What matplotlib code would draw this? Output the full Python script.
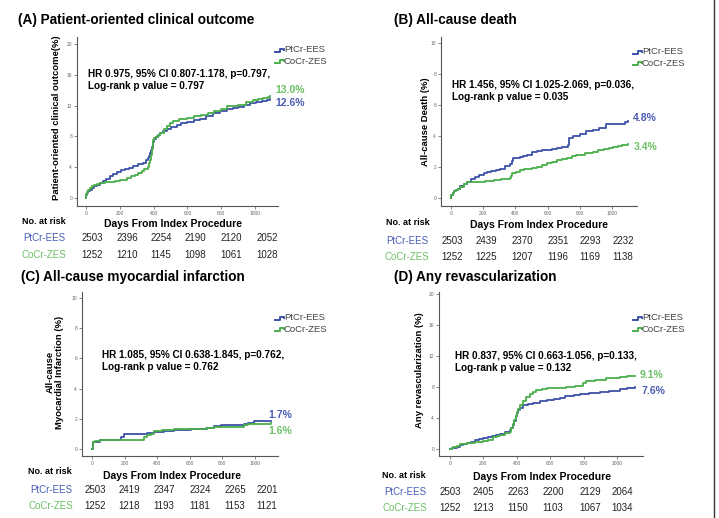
import matplotlib
matplotlib.use("Agg")
import matplotlib.pyplot as plt
from matplotlib.lines import Line2D

plt.rcParams['font.family'] = ['Liberation Sans', 'DejaVu Sans']

# ---- data (days, cumulative %)
groups = ['PtCr-EES', 'CoCr-ZES']
risk_days = [0, 200, 400, 600, 800, 1000]

titles = ['(A) Patient-oriented clinical outcome', '(B) All-cause death',
          '(C) All-cause myocardial infarction', '(D) Any revascularization']
ylabels = ['Patient-oriented clinical outcome(%)', 'All-cause Death (%)',
           'All-cause\nMyocardial Infarction (%)', 'Any revascularization (%)']
stats = ['HR 0.975, 95% CI 0.807-1.178, p=0.797,\nLog-rank p value = 0.797',
         'HR 1.456, 95% CI 1.025-2.069, p=0.036,\nLog-rank p value = 0.035',
         'HR 1.085, 95% CI 0.638-1.845, p=0.762,\nLog-rank p value = 0.762',
         'HR 0.837, 95% CI 0.663-1.056, p=0.133,\nLog-rank p value = 0.132']
end_labels = [('12.6%', '13.0%'), ('4.8%', '3.4%'), ('1.7%', '1.6%'), ('7.6%', '9.1%')]

# panel A
pt_days_A = [0, 3, 8, 15, 25, 35, 50, 65, 83, 100, 120, 140, 160, 181, 205, 230, 255, 280, 310, 339,
             355, 365, 372, 379, 385, 390, 394, 398, 405, 415, 425, 438, 455, 480, 505, 536, 565, 600,
             640, 675, 710, 750, 790, 832, 870, 900, 935, 970, 1005, 1040, 1070, 1089]
pt_A = [0, 0.4, 0.7, 0.9, 1.1, 1.3, 1.5, 1.7, 2.0, 2.2, 2.5, 2.8, 3.1, 3.4, 3.6, 3.8, 3.95, 4.1, 4.35, 4.6,
        4.9, 5.2, 5.5, 5.8, 6.2, 6.6, 7.0, 7.3, 7.6, 7.9, 8.15, 8.4, 8.65, 8.9, 9.2, 9.5, 9.7, 9.9,
        10.1, 10.3, 10.7, 11.0, 11.3, 11.6, 11.7, 11.8, 12.05, 12.3, 12.45, 12.6, 12.75, 12.9]
co_days_A = [0, 3, 8, 15, 25, 35, 50, 65, 83, 110, 142, 170, 200, 220, 240, 265, 290, 310, 330, 345,
             359, 365, 370, 375, 379, 385, 390, 394, 398, 405, 412, 420, 430, 440, 460, 480, 500, 517,
             550, 600, 640, 680, 720, 760, 800, 832, 870, 900, 945, 990, 1020, 1050, 1075, 1089]
co_A = [0, 0.5, 0.8, 1.1, 1.3, 1.5, 1.7, 1.85, 2.0, 2.05, 2.1, 2.2, 2.3, 2.4, 2.55, 2.8, 3.0, 3.25, 3.5, 3.7,
        3.8, 4.0, 4.3, 4.6, 4.9, 5.6, 6.3, 6.9, 7.5, 7.75, 7.9, 8.0, 8.2, 8.4, 8.9, 9.4, 9.7, 10.0,
        10.2, 10.4, 10.6, 10.8, 11.05, 11.3, 11.6, 11.9, 12.0, 12.1, 12.4, 12.7, 12.85, 13.0, 13.15, 13.3]
risk_pt_A = [2503, 2396, 2254, 2190, 2120, 2052]
risk_co_A = [1252, 1210, 1145, 1098, 1061, 1028]

# panel B
pt_days_B = [0, 3, 10, 20, 30, 45, 58, 80, 100, 125, 150, 175, 202, 225, 250, 280, 305, 335, 367, 378,
             388, 410, 430, 450, 470, 500, 532, 565, 600, 630, 656, 690, 728, 732, 735, 760, 800, 840,
             882, 920, 965, 1000, 1068, 1080, 1099]
pt_B = [0, 0.2, 0.35, 0.45, 0.5, 0.6, 0.75, 0.9, 1.0, 1.2, 1.35, 1.5, 1.6, 1.68, 1.75, 1.82, 1.9, 2.05, 2.2, 2.4,
        2.55, 2.6, 2.65, 2.72, 2.8, 2.95, 3.05, 3.07, 3.1, 3.15, 3.2, 3.3, 3.4, 3.6, 3.85, 4.0, 4.15, 4.3,
        4.4, 4.55, 4.75, 4.8, 4.8, 4.9, 5.0]
co_days_B = [0, 3, 10, 20, 30, 45, 58, 80, 99, 130, 161, 210, 264, 310, 367, 373, 380, 405, 429, 455,
             480, 505, 532, 565, 594, 625, 656, 690, 720, 750, 779, 830, 882, 915, 950, 980, 1006, 1035,
             1060, 1080, 1099]
co_B = [0, 0.2, 0.35, 0.45, 0.5, 0.6, 0.73, 0.88, 1.0, 1.03, 1.05, 1.1, 1.15, 1.2, 1.27, 1.45, 1.6, 1.7, 1.8, 1.85,
        1.9, 1.95, 2.0, 2.1, 2.23, 2.35, 2.45, 2.52, 2.6, 2.68, 2.77, 2.9, 3.0, 3.08, 3.15, 3.22, 3.3, 3.35,
        3.4, 3.45, 3.48]
risk_pt_B = [2503, 2439, 2370, 2351, 2293, 2232]
risk_co_B = [1252, 1225, 1207, 1196, 1169, 1138]

# panel C
pt_days_C = [0, 3, 20, 51, 100, 154, 175, 195, 298, 340, 380, 440, 503, 606, 650, 708, 750, 790, 850,
             934, 960, 996, 1098]
pt_C = [0, 0.45, 0.5, 0.58, 0.6, 0.62, 0.8, 0.98, 1.02, 1.08, 1.15, 1.22, 1.28, 1.33, 1.36, 1.4, 1.5, 1.57, 1.6,
        1.68, 1.75, 1.84, 1.84]
co_days_C = [0, 3, 20, 51, 100, 154, 290, 318, 340, 360, 380, 430, 503, 606, 700, 749, 913, 935, 955, 1098]
co_C = [0, 0.45, 0.52, 0.62, 0.6, 0.58, 0.6, 0.8, 0.9, 1.0, 1.2, 1.25, 1.33, 1.33, 1.38, 1.46, 1.46, 1.6, 1.68, 1.73]
risk_pt_C = [2503, 2419, 2347, 2324, 2265, 2201]
risk_co_C = [1252, 1218, 1193, 1181, 1153, 1121]

# panel D
pt_days_D = [0, 10, 20, 40, 60, 80, 100, 125, 150, 175, 199, 225, 250, 275, 299, 330, 359, 368, 378, 386,
             393, 400, 408, 420, 438, 465, 498, 540, 578, 620, 657, 690, 717, 745, 777, 835, 896, 955,
             1016, 1060, 1106]
pt_D = [0, 0.08, 0.15, 0.3, 0.45, 0.6, 0.74, 0.9, 1.1, 1.25, 1.43, 1.55, 1.7, 1.82, 1.96, 2.15, 2.4, 2.7, 3.04, 3.6,
        4.2, 4.6, 5.0, 5.35, 5.65, 5.8, 5.96, 6.15, 6.3, 6.5, 6.65, 6.8, 6.9, 7.0, 7.1, 7.25, 7.4, 7.55,
        7.7, 7.85, 8.04]
co_days_D = [0, 10, 20, 40, 60, 80, 100, 150, 199, 230, 259, 280, 300, 330, 359, 368, 378, 386, 393, 400,
             408, 420, 435, 458, 480, 500, 518, 550, 578, 640, 697, 750, 797, 817, 870, 936, 980, 1020,
             1060, 1106]
co_D = [0, 0.1, 0.2, 0.43, 0.6, 0.7, 0.74, 0.9, 1.09, 1.1, 1.5, 1.65, 1.8, 2.0, 2.17, 2.7, 3.26, 3.8, 4.3, 4.8,
        5.2, 5.7, 6.2, 6.74, 7.1, 7.4, 7.6, 7.75, 7.83, 7.9, 8.04, 8.2, 8.48, 8.83, 8.95, 9.13, 9.2, 9.3,
        9.4, 9.48]
risk_pt_D = [2503, 2405, 2263, 2200, 2129, 2064]
risk_co_D = [1252, 1213, 1150, 1103, 1067, 1034]

curves = [((pt_days_A, pt_A), (co_days_A, co_A)),
          ((pt_days_B, pt_B), (co_days_B, co_B)),
          ((pt_days_C, pt_C), (co_days_C, co_C)),
          ((pt_days_D, pt_D), (co_days_D, co_D))]
risks = [(risk_pt_A, risk_co_A), (risk_pt_B, risk_co_B),
         (risk_pt_C, risk_co_C), (risk_pt_D, risk_co_D)]
ymax = [20, 10, 10, 20]

# ---- layout (pixels in a 719x518 image)
W, H = 719, 518
BLUE = '#3c52a8'
GREEN = '#4aae4a'
LBLUE = '#4a5cb4'
LGREEN = '#6cc065'

def fx(px):
    return px / W

def fy(py):
    return 1 - py / H

# axes box: left, right, top, bottom (px) and xlim, ylim
boxes = [(77, 278, 37, 206, (-53, 1136), (-1.04, 20.9)),
         (441, 637, 37, 206, (-62, 1155), (-0.52, 10.4)),
         (82, 278, 292, 456, (-62, 1142), (-0.46, 10.4)),
         (439, 643, 292, 456, (-66, 1156), (-0.91, 20.3))]
title_pos = [(18, 20), (394, 20), (21, 277), (394, 277)]
ylab_pos = [(57, 118), (425, 122), (55, 372), (420, 370)]
stat_pos = [(88, 80), (452, 91), (102, 361), (455, 362)]
end_pos = [((275, 103), (275, 90)), ((633, 118), (634, 147)),
           ((268, 415), (268, 431)), ((642, 391), (640, 375))]
leg_pos = [(275, 50), (633, 52), (275, 318), (633, 318)]
risk_head = [(44, 222, 173, 224), (408, 223, 539, 225), (50, 472, 172, 476), (404, 476, 542, 477)]
risk_rows = [(44, 238, 255), (407, 241, 257), (51, 490, 506), (405, 492, 508)]
risk_x = [[92, 127, 161, 195, 231, 267], [452, 486, 522, 558, 590, 623],
          [95, 129, 164, 200, 235, 267], [450, 483, 518, 553, 590, 622]]

fig = plt.figure(figsize=(7.19, 5.18), dpi=100)

for i in range(4):
    l, r, t, b, xl, yl = boxes[i]
    ax = fig.add_axes([fx(l), fy(b), (r - l) / W, (b - t) / H])
    (pd, pv), (cd, cv) = curves[i]
    ax.plot(pd, pv, drawstyle='steps-post', color=BLUE, lw=1.3)
    ax.plot(cd, cv, drawstyle='steps-post', color=GREEN, lw=1.3)
    ax.set_xlim(*xl)
    ax.set_ylim(*yl)
    ax.set_xticks(risk_days)
    step = 4 if ymax[i] == 20 else 2
    ax.set_yticks(list(range(0, ymax[i] + 1, step)))
    for s in ['top', 'right']:
        ax.spines[s].set_visible(False)
    for s in ['left', 'bottom']:
        ax.spines[s].set_color('#555555')
        ax.spines[s].set_linewidth(0.8)
    ax.tick_params(labelsize=3.5, labelcolor='#666666', length=2, width=0.5,
                   color='#555555', pad=1.5)

    fig.text(fx(title_pos[i][0]), fy(title_pos[i][1]), titles[i],
             fontsize=9.8, fontweight='bold', va='center', ha='left')
    fig.text(fx(ylab_pos[i][0]), fy(ylab_pos[i][1]), ylabels[i], rotation=90,
             fontsize=6.8, fontweight='bold', va='center', ha='center',
             linespacing=1.1)
    fig.text(fx(stat_pos[i][0]), fy(stat_pos[i][1]), stats[i], fontsize=7.2,
             fontweight='bold', va='center', ha='left', linespacing=1.35)
    (bp, gp) = end_pos[i]
    fig.text(fx(bp[0]), fy(bp[1]), end_labels[i][0], color=LBLUE,
             fontsize=7.5, fontweight='bold', va='center')
    fig.text(fx(gp[0]), fy(gp[1]), end_labels[i][1], color=LGREEN,
             fontsize=7.5, fontweight='bold', va='center')

    # legend with little step glyphs
    lx, ly = leg_pos[i]
    for k, col in enumerate([BLUE, GREEN]):
        yy = ly + 11 * k
        glyph = Line2D([fx(lx), fx(lx + 5), fx(lx + 5), fx(lx + 9), fx(lx + 9)],
                       [fy(yy + 1.5), fy(yy + 1.5), fy(yy - 1.5), fy(yy - 1.5), fy(yy)],
                       color=col, lw=1.4, transform=fig.transFigure)
        fig.add_artist(glyph)
        fig.text(fx(lx + 9), fy(yy), groups[k], fontsize=6.8, color='#444444',
                 va='center', ha='left')

    # number at risk table
    nx, ny, dx, dy = risk_head[i]
    fig.text(fx(nx), fy(ny), 'No. at risk', fontsize=6.5, fontweight='bold',
             ha='center', va='center')
    fig.text(fx(dx), fy(dy), 'Days From Index Procedure', fontsize=7.5,
             fontweight='bold', ha='center', va='center')
    rx, ry1, ry2 = risk_rows[i]
    fig.text(fx(rx), fy(ry1), groups[0], fontsize=7, color=LBLUE, ha='center', va='center')
    fig.text(fx(rx), fy(ry2), groups[1], fontsize=7, color=LGREEN, ha='center', va='center')
    for j in range(len(risk_days)):
        fig.text(fx(risk_x[i][j]), fy(ry1), str(risks[i][0][j]), fontsize=7,
                 ha='center', va='center', color='#222222')
        fig.text(fx(risk_x[i][j]), fy(ry2), str(risks[i][1][j]), fontsize=7,
                 ha='center', va='center', color='#222222')

# frame line at the right edge
fig.add_artist(Line2D([fx(714), fx(714)], [0, 1], color='#333333', lw=1.0,
                      transform=fig.transFigure))

fig.savefig('out.png', dpi=100)
